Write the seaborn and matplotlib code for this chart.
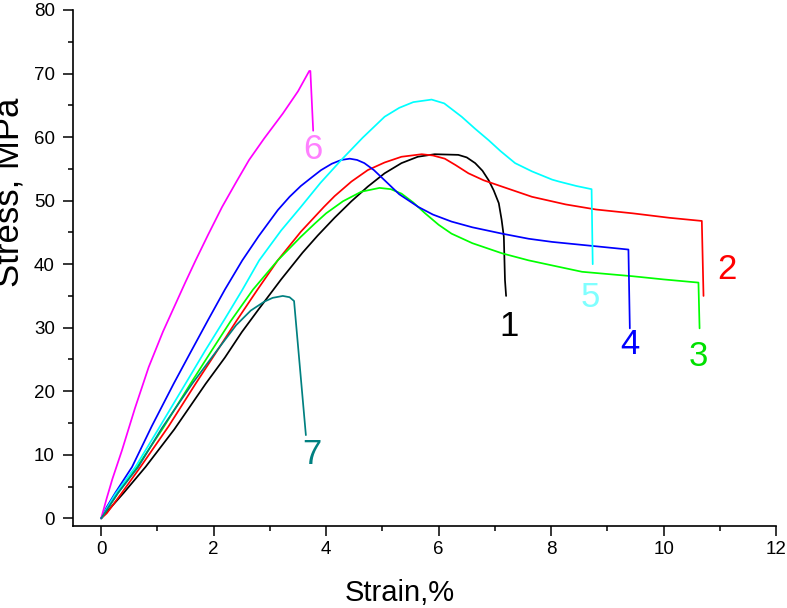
import numpy as np
import pandas as pd
import matplotlib
matplotlib.use("Agg")
import matplotlib.pyplot as plt
import seaborn as sns
from matplotlib.ticker import MultipleLocator

# Stress-strain curves (strain %, stress MPa)
strain_1 = [0, 0.1, 0.4, 0.79, 1.3, 1.86, 2.2, 2.5, 2.8, 3.2, 3.58, 3.85, 4.15, 4.45, 4.74, 5.04, 5.34, 5.63, 5.93, 6.35, 6.5, 6.65, 6.78, 6.89, 6.98, 7.07, 7.12, 7.16, 7.18, 7.2]
stress_1 = [0, 1.0, 4.0, 8.1, 14.0, 21.2, 25.3, 29.3, 32.9, 37.6, 41.8, 44.5, 47.3, 49.9, 52.2, 54.3, 55.9, 56.9, 57.3, 57.2, 56.8, 55.9, 54.7, 53.2, 51.6, 49.6, 47.0, 44.3, 37.5, 35.0]

strain_2 = [0, 0.1, 0.35, 0.7, 1.2, 1.68, 2.05, 2.4, 2.78, 3.14, 3.55, 3.96, 4.15, 4.45, 4.74, 5.04, 5.34, 5.7, 5.9, 6.11, 6.3, 6.53, 6.8, 7.13, 7.66, 8.26, 8.8, 9.45, 10.1, 10.68, 10.71]
stress_2 = [0, 0.8, 3.8, 8.1, 14.5, 21.2, 26.2, 31.0, 36.0, 40.6, 45.1, 49.0, 50.7, 53.0, 54.8, 56.0, 56.9, 57.3, 57.1, 56.6, 55.6, 54.3, 53.2, 52.2, 50.6, 49.4, 48.6, 48.0, 47.3, 46.8, 35.0]

strain_3 = [0, 0.3, 0.64, 1.1, 1.59, 1.95, 2.3, 2.7, 3.14, 3.55, 3.8, 4.0, 4.3, 4.625, 4.95, 5.15, 5.34, 5.55, 5.76, 6.0, 6.23, 6.6, 7.13, 7.6, 8.02, 8.55, 9.45, 10.0, 10.62, 10.64]
stress_3 = [0, 4.0, 8.1, 14.2, 21.2, 26.2, 31.0, 36.0, 40.6, 44.3, 46.4, 48.0, 49.9, 51.4, 52.0, 51.8, 51.1, 49.7, 48.0, 46.2, 44.8, 43.3, 41.7, 40.6, 39.8, 38.8, 38.1, 37.6, 37.1, 29.9]

strain_4 = [0, 0.1, 0.25, 0.55, 0.9, 1.29, 1.6, 1.9, 2.2, 2.51, 2.8, 3.14, 3.35, 3.55, 3.75, 3.91, 4.1, 4.27, 4.42, 4.55, 4.68, 4.85, 5.04, 5.3, 5.64, 5.9, 6.23, 6.6, 7.13, 7.6, 8.02, 8.7, 9.375, 9.4]
stress_4 = [0, 1.8, 4.0, 8.1, 14.5, 21.2, 26.3, 31.2, 36.0, 40.6, 44.4, 48.5, 50.6, 52.3, 53.7, 54.8, 55.8, 56.4, 56.6, 56.4, 55.9, 54.8, 53.2, 51.0, 49.0, 47.8, 46.7, 45.8, 44.8, 44.0, 43.5, 42.9, 42.3, 29.9]

strain_5 = [0, 0.1, 0.25, 0.61, 1.0, 1.5, 1.85, 2.2, 2.5, 2.81, 3.2, 3.55, 3.9, 4.27, 4.65, 5.04, 5.3, 5.55, 5.875, 6.1, 6.41, 6.65, 6.89, 7.1, 7.36, 7.66, 8.02, 8.14, 8.45, 8.72, 8.74]
stress_5 = [0, 1.6, 3.8, 8.1, 13.8, 21.2, 26.4, 31.4, 35.8, 40.6, 45.3, 49.0, 52.8, 56.4, 59.9, 63.2, 64.6, 65.5, 65.9, 65.3, 63.2, 61.3, 59.5, 57.8, 55.9, 54.6, 53.3, 53.0, 52.3, 51.8, 40.0]

strain_6 = [0, 0.1, 0.2, 0.37, 0.6, 0.845, 1.1, 1.3, 1.5, 1.68, 1.9, 2.15, 2.4, 2.63, 2.9, 3.23, 3.5, 3.7, 3.72, 3.77]
stress_6 = [0, 3.2, 6.2, 10.7, 17.3, 23.8, 29.4, 33.3, 37.2, 40.6, 44.6, 49.0, 52.9, 56.4, 59.8, 63.7, 67.2, 70.4, 70.4, 61.0]

strain_7 = [0, 0.3, 0.66, 1.08, 1.62, 2.1, 2.4, 2.66, 2.9, 3.05, 3.23, 3.35, 3.43, 3.64]
stress_7 = [0, 4.0, 8.1, 14.2, 21.2, 26.9, 30.4, 32.7, 34.1, 34.7, 35.0, 34.8, 34.2, 13.1]

SAMPLES = ["1", "2", "3", "4", "5", "6", "7"]
STRAINS = [strain_1, strain_2, strain_3, strain_4, strain_5, strain_6, strain_7]
STRESSES = [stress_1, stress_2, stress_3, stress_4, stress_5, stress_6, stress_7]

# colours of lines and of the number labels
LINE_COLORS = ["#000000", "#ff0000", "#00ff00", "#0000ff", "#00ffff", "#ff00ff", "#008080"]
LABEL_COLORS = ["#000000", "#ff0000", "#00e000", "#0000ff", "#80ffff", "#ff80ff", "#008080"]
# where the numbers sit
LABEL_POS = [(7.25, 30.2), (11.13, 39.1), (10.61, 25.4), (9.40, 27.3), (8.70, 34.7), (3.77, 58.0), (3.75, 10.0)]

#%%
rows = []
for name, xs, ys in zip(SAMPLES, STRAINS, STRESSES):
    for i, (x, y) in enumerate(zip(xs, ys)):
        rows.append({"sample": name, "order": i, "strain": x, "stress": y})
df = pd.DataFrame(rows)

sns.set_theme(style="ticks")
plt.rcParams["font.family"] = ["Liberation Sans", "DejaVu Sans"]

fig = plt.figure(figsize=(7.87, 6.08), dpi=100)
ax = fig.add_axes([0.0928, 0.1349, 0.8933, 0.8487])

sns.lineplot(data=df, x="strain", y="stress", hue="sample", units="sample",
             estimator=None, sort=False, palette=LINE_COLORS, lw=1.25,
             legend=False, ax=ax)

for name, (lx, ly), c in zip(SAMPLES, LABEL_POS, LABEL_COLORS):
    ax.text(lx, ly, name, color=c, fontsize=25, ha="center", va="center")

ax.set_xlim(-0.5, 12)
ax.set_ylim(-1.2, 80)
ax.xaxis.set_major_locator(MultipleLocator(2))
ax.xaxis.set_minor_locator(MultipleLocator(1))
ax.yaxis.set_major_locator(MultipleLocator(10))
ax.yaxis.set_minor_locator(MultipleLocator(5))

ax.tick_params(which="major", direction="out", length=7, width=1.1, labelsize=13.5, color="black", labelcolor="black")
ax.tick_params(axis="x", which="major", pad=4)
ax.tick_params(axis="y", which="major", pad=6)
ax.tick_params(which="minor", direction="out", length=3.5, width=1.1, color="black")

sns.despine(ax=ax)
for s in ["left", "bottom"]:
    ax.spines[s].set_linewidth(1.2)
    ax.spines[s].set_color("black")

ax.set_xlabel("Strain,%", fontsize=21, color="black")
ax.set_ylabel("Stress, MPa", fontsize=25, color="black")
ax.xaxis.set_label_coords(0.465, -0.102)
ax.yaxis.set_label_coords(-0.068, 0.647)

fig.savefig("out.png", dpi=100)
